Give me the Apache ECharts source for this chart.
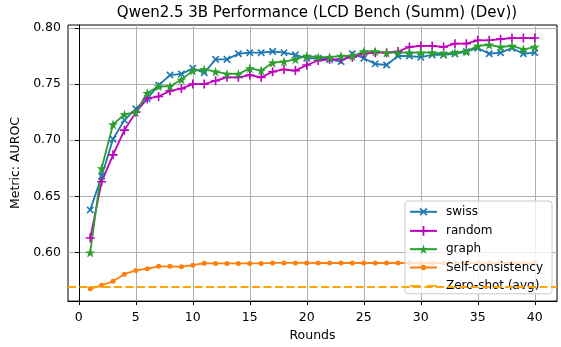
<!DOCTYPE html>
<html><head><meta charset="utf-8">
<script src="https://cdn.jsdelivr.net/npm/echarts@6/dist/echarts.min.js"></script>
<style>html,body{margin:0;padding:0;background:#fff}#c{width:561px;height:347px}</style>
</head><body><div id="c"></div>
<script>
const rounds = [1,2,3,4,5,6,7,8,9,10,11,12,13,14,15,16,17,18,19,20,21,22,23,24,25,26,27,28,29,30,31,32,33,34,35,36,37,38,39,40];
const swiss = [0.638,0.668,0.701,0.718,0.728,0.737,0.749,0.758,0.759,0.764,0.760,0.772,0.772,0.777,0.778,0.778,0.779,0.778,0.776,0.773,0.773,0.772,0.770,0.777,0.773,0.768,0.767,0.775,0.775,0.774,0.776,0.776,0.777,0.779,0.782,0.777,0.778,0.782,0.777,0.778];
const random = [0.613,0.663,0.687,0.709,0.725,0.737,0.739,0.744,0.746,0.750,0.750,0.753,0.756,0.756,0.758,0.756,0.761,0.763,0.762,0.767,0.771,0.772,0.772,0.774,0.777,0.778,0.778,0.779,0.783,0.784,0.784,0.783,0.786,0.786,0.789,0.789,0.790,0.791,0.791,0.791];
const graph = [0.600,0.675,0.714,0.723,0.725,0.742,0.748,0.748,0.754,0.762,0.763,0.761,0.759,0.759,0.764,0.762,0.769,0.770,0.772,0.775,0.774,0.774,0.775,0.775,0.779,0.779,0.778,0.778,0.778,0.778,0.778,0.777,0.778,0.779,0.784,0.785,0.783,0.784,0.781,0.783];
const selfConsistency = [0.5677,0.5709,0.5744,0.5808,0.5841,0.5856,0.5878,0.5878,0.5874,0.5888,0.5905,0.5903,0.5903,0.5903,0.5903,0.5903,0.5908,0.5908,0.5908,0.5908,0.5907,0.5907,0.5907,0.5907,0.5907,0.5907,0.5907,0.5907,0.5907,0.5907,0.5907,0.5907,0.5907,0.5907,0.5907,0.5907,0.5907,0.5907,0.5907,0.5907];
const zeroShotAvg = 0.5703;
const xTicks = [0,5,10,15,20,25,30,35,40];
const yTicks = [0.60,0.65,0.70,0.75,0.80];

const FONT = 'DejaVu Sans';
const pair = arr => rounds.map((r,i)=>[r,arr[i]]);
const plusPath = 'path://M4.1,0H5.9V4.1H10V5.9H5.9V10H4.1V5.9H0V4.1H4.1Z';
const starPath = 'path://M10,0L12.245,6.91L19.511,6.91L13.633,11.18L15.878,18.09L10,13.82L4.122,18.09L6.367,11.18L0.489,6.91L7.755,6.91Z';
const dotLegend = 'path://M0,4.6H27V6.4H0Z M13.5,2.8A2.7,2.7 0 1 1 13.49,2.8Z';
const dashLegend = 'path://M0,0H10V1.8H0Z M17,0H27V1.8H17Z';

const chart = echarts.init(document.getElementById('c'), null, {renderer:'canvas'});
const axisCommon = {
  axisLine:{show:true,lineStyle:{color:'#000',width:1}},
  axisTick:{show:true,inside:false,length:4,lineStyle:{color:'#000',width:1}},
  splitLine:{show:true,lineStyle:{color:'#b0b0b0',width:1}},
  nameTextStyle:{fontFamily:FONT,fontSize:12.5,color:'#000'}
};
chart.setOption({
  animation:false,
  backgroundColor:'#fff',
  title:{text:'Qwen2.5 3B Performance (LCD Bench (Summ) (Dev))',left:312,textAlign:'center',top:1,
    textStyle:{fontFamily:FONT,fontSize:15,fontWeight:'normal',color:'#000'}},
  grid:{left:68,right:4,top:25,bottom:45,show:true,borderColor:'#000',borderWidth:1,backgroundColor:'transparent'},
  xAxis:Object.assign({},axisCommon,{type:'value',min:-0.95,max:41.95,name:'Rounds',nameLocation:'middle',nameGap:26,
    axisLabel:{customValues:xTicks,fontFamily:FONT,fontSize:12.5,color:'#000',margin:10},
    axisTick:Object.assign({},axisCommon.axisTick,{customValues:xTicks}),
    splitLine:Object.assign({},axisCommon.splitLine,{customValues:xTicks})}),
  yAxis:Object.assign({},axisCommon,{type:'value',min:0.5568,max:0.8026,name:'Metric: AUROC',nameLocation:'middle',nameGap:42,
    axisLabel:{customValues:yTicks,fontFamily:FONT,fontSize:12.5,color:'#000',margin:7,formatter:v=>v.toFixed(2)},
    axisTick:Object.assign({},axisCommon.axisTick,{customValues:yTicks}),
    splitLine:Object.assign({},axisCommon.splitLine,{customValues:yTicks})}),
  legend:{orient:'vertical',right:9,top:201,itemWidth:27,itemHeight:12,itemGap:6.3,padding:[4,9,2,4],
    backgroundColor:'rgba(255,255,255,0.8)',borderColor:'#cccccc',borderWidth:1,borderRadius:3,
    textStyle:{fontFamily:FONT,fontSize:12,color:'#000',padding:[0,0,0,4]},
    data:['swiss','random','graph',{name:'Self-consistency',icon:dotLegend},{name:'Zero-shot (avg)',icon:dashLegend}]},
  series:[
    {name:'swiss',type:'line',data:pair(swiss),color:'#1f77b4',symbol:plusPath,symbolRotate:45,symbolSize:9,
      lineStyle:{width:1.8},itemStyle:{color:'#1f77b4'}},
    {name:'random',type:'line',data:pair(random),color:'#bf00bf',symbol:plusPath,symbolSize:9,
      lineStyle:{width:1.8},itemStyle:{color:'#bf00bf'}},
    {name:'graph',type:'line',data:pair(graph),color:'#2ca02c',symbol:starPath,symbolSize:10,
      lineStyle:{width:1.8},itemStyle:{color:'#2ca02c'}},
    {name:'Self-consistency',type:'line',data:pair(selfConsistency),color:'#ff7f0e',symbol:'circle',symbolSize:5,
      lineStyle:{width:1.8},itemStyle:{color:'#ff7f0e'}},
    {name:'Zero-shot (avg)',type:'line',data:[],color:'#ffa500',symbol:'none',
      lineStyle:{width:1.8,type:[8,3.5],color:'#ffa500'},itemStyle:{color:'#ffa500'},
      markLine:{silent:true,symbol:'none',label:{show:false},lineStyle:{color:'#ffa500',width:1.8,type:[8,3.5]},
        data:[{yAxis:zeroShotAvg}]}}
  ]
});
</script></body></html>
